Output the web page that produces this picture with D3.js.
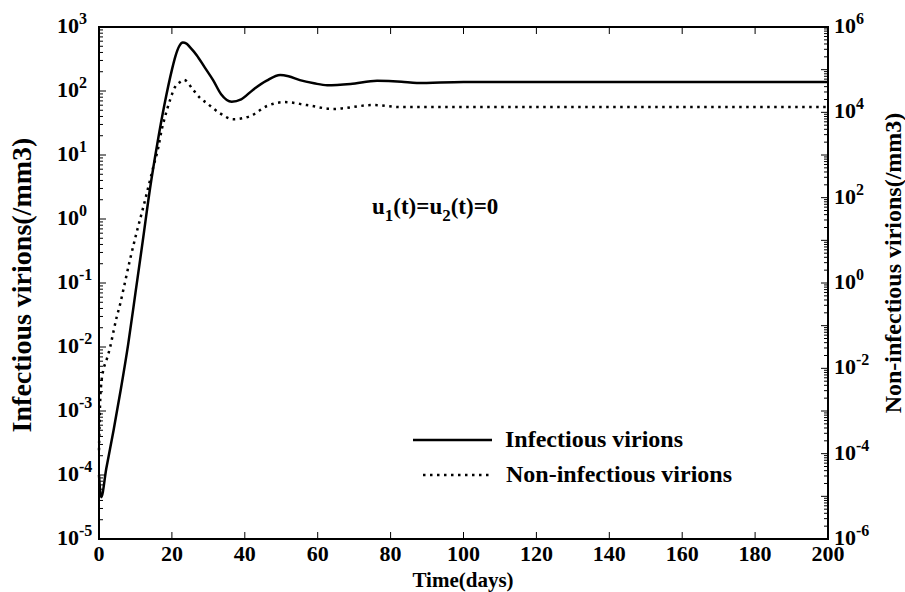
<!DOCTYPE html>
<html>
<head>
<meta charset="utf-8">
<script src="https://cdn.jsdelivr.net/npm/d3@7"></script>
<style>
  body { margin: 0; background: #fff; }
  svg text { font-family: "Liberation Serif", "Times New Roman", serif; font-weight: bold; fill: #000; }
</style>
</head>
<body>
<div id="chart"></div>
<script>
// time (days) and values
var tInf = [0, 0.6, 2, 4, 6, 8, 10, 12, 14, 16, 18, 20, 21, 22, 23, 24, 25, 26.8, 29, 31.3, 33.5, 36.4, 39, 42.3, 46, 49.7, 52, 55.1, 59, 62.6, 69, 76.3, 83, 87.2, 100, 120, 150, 200];
var infectious = [1.0e-4, 4.5e-5, 1.26e-4, 5e-4, 2.2e-3, 0.011, 0.07, 0.45, 3.0, 15, 63, 214, 355, 500, 570, 550, 480, 363, 234, 148, 89, 68, 74, 105, 145, 178, 170, 148, 132, 123, 129, 145, 140, 133, 138, 138, 138, 138];

var tNon = [0, 0.3, 0.74, 1.18, 2.1, 3.0, 3.9, 4.86, 5.76, 6.67, 8.5, 10.3, 12.15, 14.0, 14.9, 16.3, 17.2, 18.1, 19.5, 20.85, 22.2, 23.3, 25.9, 27.7, 29.5, 33.2, 36.8, 41.4, 46.1, 51, 57, 64.2, 75.2, 82.6, 100, 130, 160, 200];
var nonInfectious = [1.2e-4, 1.5e-3, 5.4e-3, 9.1e-3, 0.016, 0.03, 0.068, 0.16, 0.31, 0.69, 3.5, 15, 60, 257, 525, 1550, 3900, 7800, 19500, 39000, 51000, 57500, 33000, 21900, 16600, 9500, 6900, 8100, 14100, 17400, 14800, 12000, 14800, 13300, 13300, 13300, 13300, 13300];

var xTicks = [0, 20, 40, 60, 80, 100, 120, 140, 160, 180, 200];
var leftExps = [3, 2, 1, 0, -1, -2, -3, -4, -5];
var rightExps = [6, 4, 2, 0, -2, -4, -6];

var width = 905, height = 592;
var x0 = 99, x1 = 828, y0 = 27, y1 = 539;

var svg = d3.select("#chart").append("svg")
  .attr("width", width)
  .attr("height", height);

var x = d3.scaleLinear().domain([0, 200]).range([x0, x1]);
var yL = d3.scaleLog().domain([1e-5, 1e3]).range([y1, y0]);
var yR = d3.scaleLog().domain([1e-6, 1e6]).range([y1, y0]);

// minor + major ticks on the log axes
function logTicks(lo, hi) {
  var out = [];
  for (var e = lo; e < hi; e++) {
    for (var m = 1; m < 10; m++) out.push({ v: m * Math.pow(10, e), major: m === 1 });
  }
  out.push({ v: Math.pow(10, hi), major: true });
  return out;
}

var g = svg.append("g");

// left ticks (inward)
g.selectAll(".lt").data(logTicks(-5, 3)).enter().append("line")
  .attr("x1", x0).attr("x2", function(d) { return x0 + (d.major ? 7 : 4); })
  .attr("y1", function(d) { return yL(d.v); }).attr("y2", function(d) { return yL(d.v); })
  .attr("stroke", "#000").attr("stroke-width", 1);

// right ticks (inward)
g.selectAll(".rt").data(logTicks(-6, 6)).enter().append("line")
  .attr("x1", x1).attr("x2", function(d) { return x1 - (d.major ? 7 : 4); })
  .attr("y1", function(d) { return yR(d.v); }).attr("y2", function(d) { return yR(d.v); })
  .attr("stroke", "#000").attr("stroke-width", 1);

// bottom and top ticks
g.selectAll(".bt").data(xTicks).enter().append("line")
  .attr("x1", function(d) { return x(d); }).attr("x2", function(d) { return x(d); })
  .attr("y1", y1).attr("y2", y1 - 7)
  .attr("stroke", "#000").attr("stroke-width", 1);
g.selectAll(".tt").data(xTicks).enter().append("line")
  .attr("x1", function(d) { return x(d); }).attr("x2", function(d) { return x(d); })
  .attr("y1", y0).attr("y2", y0 + 7)
  .attr("stroke", "#000").attr("stroke-width", 1);

// frame
g.append("rect")
  .attr("x", x0).attr("y", y0).attr("width", x1 - x0).attr("height", y1 - y0)
  .attr("fill", "none").attr("stroke", "#000").attr("stroke-width", 2);

// curves
var lineInf = d3.line()
  .x(function(d, i) { return x(tInf[i]); })
  .y(function(d) { return yL(d); })
  .curve(d3.curveMonotoneX);
var lineNon = d3.line()
  .x(function(d, i) { return x(tNon[i]); })
  .y(function(d) { return yR(d); })
  .curve(d3.curveMonotoneX);

svg.append("path").datum(infectious)
  .attr("d", lineInf).attr("fill", "none")
  .attr("stroke", "#000").attr("stroke-width", 2.5);
svg.append("path").datum(nonInfectious)
  .attr("d", lineNon).attr("fill", "none")
  .attr("stroke", "#000").attr("stroke-width", 2.5)
  .attr("stroke-dasharray", "2.5,4.5");

// tick labels
function powLabel(sel, e) {
  sel.append("tspan").text("10");
  sel.append("tspan").attr("dy", -9).attr("font-size", 16).text(e);
}

g.selectAll(".ll").data(leftExps).enter().append("text")
  .attr("x", 57).attr("y", function(d) { return yL(Math.pow(10, d)) + 6; })
  .attr("font-size", 22)
  .each(function(d) { powLabel(d3.select(this), d); });

g.selectAll(".rl").data(rightExps).enter().append("text")
  .attr("x", 834).attr("y", function(d) { return yR(Math.pow(10, d)) + 6; })
  .attr("font-size", 22)
  .each(function(d) { powLabel(d3.select(this), d); });

g.selectAll(".xl").data(xTicks).enter().append("text")
  .attr("x", function(d) { return x(d); }).attr("y", 561)
  .attr("text-anchor", "middle").attr("font-size", 22)
  .text(function(d) { return d; });

// axis titles
svg.append("text")
  .attr("x", 463).attr("y", 587).attr("text-anchor", "middle")
  .attr("font-size", 21).text("Time(days)");
svg.append("text")
  .attr("transform", "translate(31,285) rotate(-90)")
  .attr("text-anchor", "middle").attr("font-size", 28)
  .text("Infectious virions(/mm3)");
svg.append("text")
  .attr("transform", "translate(901,263) rotate(-90)")
  .attr("text-anchor", "middle").attr("font-size", 24)
  .text("Non-infectious virions(/mm3)");

// annotation
var ann = svg.append("text").attr("x", 372).attr("y", 214).attr("font-size", 23);
ann.append("tspan").text("u");
ann.append("tspan").attr("dy", 7).attr("font-size", 17).text("1");
ann.append("tspan").attr("dy", -7).text("(t)=u");
ann.append("tspan").attr("dy", 7).attr("font-size", 17).text("2");
ann.append("tspan").attr("dy", -7).text("(t)=0");

// legend
svg.append("line").attr("x1", 413).attr("x2", 492).attr("y1", 440).attr("y2", 440)
  .attr("stroke", "#000").attr("stroke-width", 2.5);
svg.append("text").attr("x", 505).attr("y", 447).attr("font-size", 24).text("Infectious virions");
svg.append("line").attr("x1", 423).attr("x2", 490).attr("y1", 475).attr("y2", 475)
  .attr("stroke", "#000").attr("stroke-width", 2.5).attr("stroke-dasharray", "2.5,4.5");
svg.append("text").attr("x", 506).attr("y", 482).attr("font-size", 24).text("Non-infectious virions");
</script>
</body>
</html>
